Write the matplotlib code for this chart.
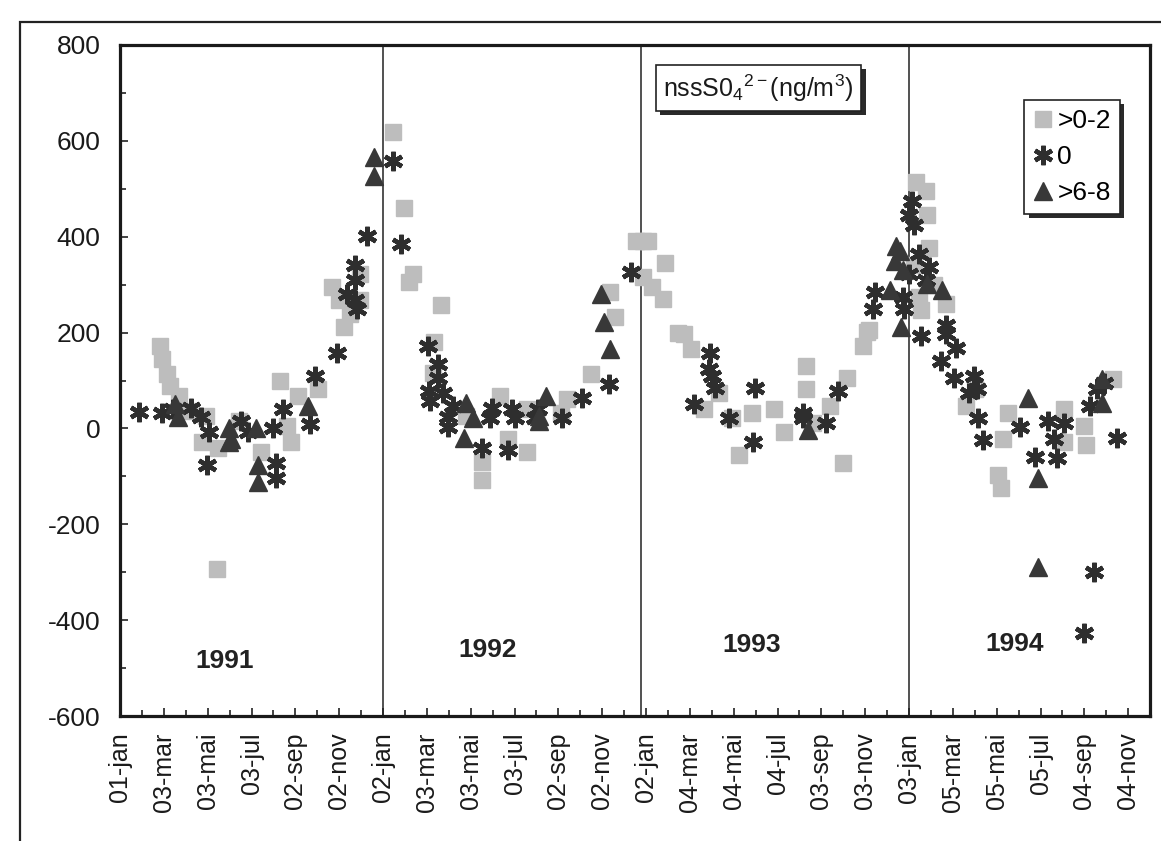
import numpy as np
import matplotlib.pyplot as plt
import matplotlib.patheffects as pe
from matplotlib.patches import Rectangle

plt.rcParams['font.family'] = ['Liberation Sans', 'DejaVu Sans']
plt.rcParams['axes.unicode_minus'] = False
plt.rcParams['mathtext.fontset'] = 'custom'
plt.rcParams['mathtext.rm'] = 'Liberation Sans'
plt.rcParams['mathtext.it'] = 'Liberation Sans'

# days since 01-jan-1991 and nssSO4 values (ng/m3)
sq_day = [55, 58, 65, 69, 82, 96, 119, 114, 137, 135, 165, 196, 222, 233, 238, 247, 275, 295, 305, 312, 320, 334, 334,
          380, 395, 402, 408, 437, 435, 446, 481, 504, 504, 529, 540, 567, 567, 614, 622, 655, 682, 689,
          718, 728, 735, 728, 741, 755, 758, 776, 785, 794, 813, 833, 851, 861, 879, 910, 924, 954, 954, 964, 988,
          1006, 1012, 1034, 1039, 1043,
          1105, 1108, 1112, 1115, 1122, 1123, 1126, 1133, 1150, 1177, 1190, 1222, 1226, 1229, 1236, 1314, 1314,
          1341, 1345, 1382]
sq_val = [171, 144, 113, 89, 68, 37, 27, -29, -41, -293, 16, -49, 99, 6, -29, 68, 82, 295, 268, 212, 239, 268, 322,
          619, 460, 305, 322, 181, 115, 258, 27, -70, -107, 68, -21, -49, 41, 33, 62, 113, 285, 233,
          392, 392, 392, 315, 295, 270, 346, 200, 198, 165, 41, 74, 21, -56, 33, 41, -8, 130, 82, 12, 47,
          -72, 105, 171, 202, 206,
          340, 515, 274, 247, 495, 445, 377, 300, 260, 47, 82, -97, -124, -21, 33, 41, -29,
          6, -35, 103]

ast_day = [27, 59, 73, 99, 113, 124, 121, 169, 178, 213, 217, 217, 227, 265, 272, 302, 316, 327, 327, 327, 330, 343,
           380, 391, 428, 430, 432, 442, 443, 450, 456, 457, 463, 504, 515, 518, 540, 545, 549, 577, 581, 615, 643,
           680, 711,
           799, 820, 821, 824, 828, 847, 881, 883, 950, 951, 982, 999, 1048, 1050,
           1089, 1091, 1098, 1098, 1102, 1105, 1112, 1115, 1122, 1126, 1142, 1149, 1149, 1160, 1163, 1181, 1188,
           1192, 1194, 1201,
           1253, 1273, 1291, 1300, 1341, 1304, 1314, 1355, 1350, 1359, 1369, 1387]
ast_val = [35, 33, 41, 43, 23, -8, -76, 16, -8, 0, -72, -103, 41, 10, 109, 157, 280, 340, 309, 268, 249, 402,
           557, 384, 171, 78, 58, 134, 105, 74, 23, 2, 47, -41, 21, 43, -45, 41, 21, 21, 41, 21, 64,
           93, 326,
           52, 124, 157, 109, 85, 21, -29, 85, 21, 33, 12, 78, 249, 285,
           274, 249, 445, 322, 474, 425, 363, 192, 309, 336, 140, 216, 198, 105, 167, 74, 109,
           82, 21, -25,
           2, -60, 16, -21, -427, -62, 12, -299, 47, 82, 95, -19]

tri_day = [76, 80, 151, 151, 155, 189, 192, 192, 261, 353, 354,
           478, 481, 491, 583, 583, 593, 669, 673, 682,
           958, 1071, 1078, 1080, 1085, 1087, 1089, 1123, 1144, 1277, 1263, 1277, 1366, 1366]
tri_val = [52, 23, 0, -29, -21, 0, -76, -111, 47, 567, 526,
           -19, 54, 21, 16, 27, 68, 280, 223, 165,
           -4, 289, 350, 381, 371, 212, 330, 301, 289, -289, 64, -103, 103, 54]

year_text = ['1991', '1992', '1993', '1994']
year_day = [146, 511, 879, 1245]
year_val = [-485, -463, -452, -449]
year_lines = [366, 725, 1098]

tick_labels = ['01-jan', '03-mar', '03-mai', '03-jul', '02-sep', '02-nov',
               '02-jan', '03-mar', '03-mai', '03-jul', '02-sep', '02-nov',
               '02-jan', '04-mar', '04-mai', '04-jul', '03-sep', '03-nov',
               '03-jan', '05-mar', '05-mai', '05-jul', '04-sep', '04-nov']

fig = plt.figure(figsize=(11.61, 8.41), dpi=100)
fig.patches.append(Rectangle((0.017, -0.1), 1.2, 1.074, transform=fig.transFigure,
                             fill=False, lw=1.6, ec='#222222'))
ax = fig.add_axes([0.1034, 0.1486, 0.8872, 0.7979])

for d in year_lines:
    ax.axvline(d, color='#222222', lw=1.1, zorder=1)

ax.plot(sq_day, sq_val, ls='none', marker='s', ms=11.5, mfc='#bdbdbd', mec='#bdbdbd',
        label='>0-2', zorder=2)
ax.plot(ast_day, ast_val, ls='none', marker=(6, 2, 0), ms=14, mew=3.2, mec='#2e2e2e',
        label='0', zorder=3)
ax.plot(tri_day, tri_val, ls='none', marker='^', ms=13, mfc='#383838', mec='#383838',
        label='>6-8', zorder=4)

for t, d, v in zip(year_text, year_day, year_val):
    ax.text(d, v, t, ha='center', va='center', fontsize=19, fontweight='bold', color='#222222')

ax.set_xlim(0, 1415)
ax.set_ylim(-600, 800)
ax.set_xticks(np.arange(len(tick_labels)) * 61)
ax.set_xticklabels(tick_labels, rotation=90, fontsize=18)
ax.set_xticks(np.arange(len(tick_labels)) * 61 + 30.5, minor=True)
ax.set_yticks(np.arange(-600, 801, 200))
ax.set_yticks(np.arange(-500, 800, 200), minor=True)
ax.tick_params(axis='y', labelsize=19, pad=14)
ax.tick_params(axis='x', pad=12)
ax.tick_params(which='both', direction='in', width=1.2, color='#222222', labelcolor='#1a1a1a')
ax.tick_params(which='major', length=6)
ax.tick_params(which='minor', length=4)
for s in ax.spines.values():
    s.set_linewidth(2.3)
    s.set_color('#1a1a1a')

shadow = [pe.SimplePatchShadow(offset=(3, -3), shadow_rgbFace='#2a2a2a', alpha=1.0), pe.Normal()]

title = ax.text(0.62, 0.936, 'nssS0$_4$$^{2-}$(ng/m$^3$)',
                transform=ax.transAxes, ha='center', va='center', fontsize=18, color='#1a1a1a',
                bbox=dict(boxstyle='square,pad=0.3', fc='white', ec='#222222', lw=1.2), zorder=6)
title.get_bbox_patch().set_path_effects(shadow)

leg = ax.legend(loc='upper right', bbox_to_anchor=(0.971, 0.918), borderaxespad=0,
                fontsize=19, fancybox=False, framealpha=1, edgecolor='#222222',
                handlelength=0.7, handletextpad=0.2, labelspacing=0.45, borderpad=0.35)
leg.get_frame().set_linewidth(1.2)
leg.get_frame().set_path_effects(shadow)
leg.set_zorder(6)

fig.savefig('out.png', dpi=100)
